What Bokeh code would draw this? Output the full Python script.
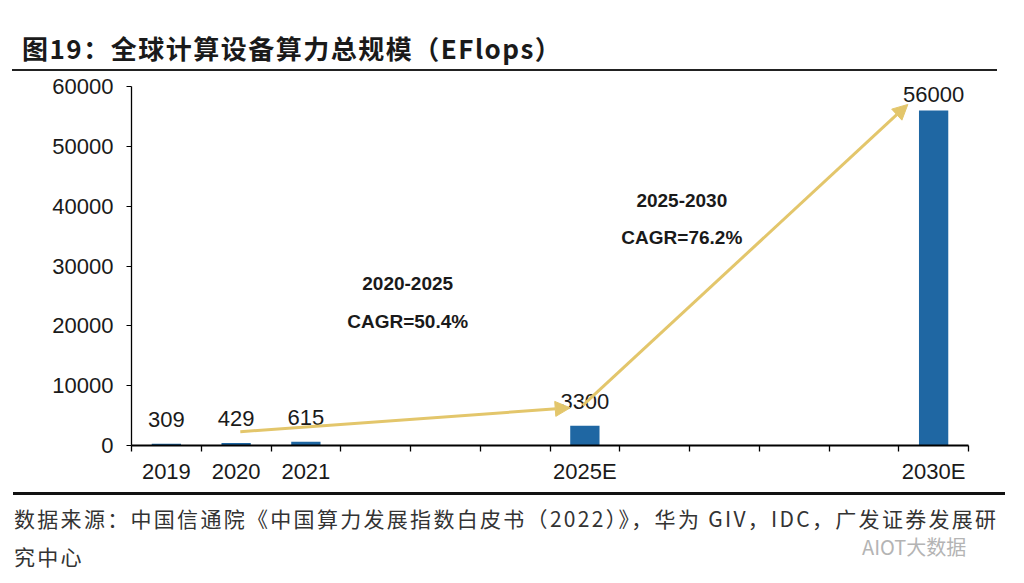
from bokeh.plotting import figure
from bokeh.layouts import column
from bokeh.models import (Range1d, LinearAxis, FixedTicker, SingleIntervalTicker, Div,
                          LabelSet, Label, Arrow, NormalHead, ColumnDataSource, NumeralTickFormatter)
from bokeh.core.properties import value
from bokeh.embed import file_html
from bokeh.resources import INLINE

# ---- data ----
slots = ["2019", "2020", "2021", "2022", "2023", "2024", "2025E",
         "2026E", "2027E", "2028E", "2029E", "2030E"]
bar_years = ["2019", "2020", "2021", "2025E", "2030E"]
bar_values = [309, 429, 615, 3300, 56000]
y_ticks_interval = 10000
title_text = "图19：全球计算设备算力总规模（EFlops）"
source_line1 = "数据来源：中国信通院《中国算力发展指数白皮书（2022）》，华为 GIV，IDC，广发证券发展研"
source_line2 = "究中心"
watermark = "AIOT大数据"
cagr_labels = [("2020-2025", "CAGR=50.4%"), ("2025-2030", "CAGR=76.2%")]
# annotation anchors (slot x units, y data units)
cagr_text_pos = [(3.96, 27000, 20800), (7.89, 41000, 34800)]
arrow_pos = [(1.56, 2300, 6.29, 6300), (6.47, 6700, 11.13, 57000)]
label_offsets = [17, 17, 17, 17, 8]

BAR = "#1F67A3"
GOLD = "#E3C66B"
TXT = "#1a1a1a"
FONT = "Liberation Sans"
CJK = "Noto Sans CJK SC"
W = 1008

# ---- header (title + rule) ----
HH = 73
hdr = Div(width=W, height=HH, margin=0, text=(
    f'<div style="position:relative;width:{W}px;height:{HH}px;margin:0;padding:0;">'
    f'<div style="position:absolute;left:22px;top:32px;font-family:\'{CJK}\';font-weight:bold;'
    f'font-size:26px;line-height:32px;letter-spacing:1.5px;white-space:nowrap;color:{TXT};">'
    f'{title_text}</div>'
    f'<div style="position:absolute;left:12px;top:69px;width:985px;height:0;'
    f'border-top:2px solid #222222;"></div></div>'))

# ---- main chart ----
p = figure(width=W, height=413,
           x_range=Range1d(0, len(slots)), y_range=Range1d(0, 60000),
           x_axis_location=None, toolbar_location=None, output_backend="svg",
           min_border_left=131, min_border_right=40, min_border_top=13, min_border_bottom=40)
p.outline_line_color = None
p.grid.visible = False

ya = p.yaxis[0]
ya.ticker = SingleIntervalTicker(interval=y_ticks_interval)
ya.formatter = NumeralTickFormatter(format="0")
ya.axis_line_color = "black"
ya.axis_line_width = 1.3
ya.major_tick_in = 0
ya.major_tick_out = 5
ya.major_tick_line_color = "black"
ya.minor_tick_line_color = None
ya.major_label_text_font = FONT
ya.major_label_text_font_size = "22px"
ya.major_label_text_color = TXT
ya.major_label_standoff = 13

centers = [slots.index(c) + 0.5 for c in bar_years]
xa = LinearAxis(ticker=FixedTicker(ticks=centers, minor_ticks=list(range(len(slots) + 1))),
                major_label_overrides={c: lab for c, lab in zip(centers, bar_years)})
xa.axis_line_color = "black"
xa.axis_line_width = 1.8
xa.major_tick_line_color = None
xa.major_tick_out = 5
xa.major_tick_in = 0
xa.minor_tick_line_color = "black"
xa.minor_tick_line_width = 1.3
xa.minor_tick_out = 6
xa.minor_tick_in = 0
xa.major_label_text_font = FONT
xa.major_label_text_font_size = "22px"
xa.major_label_text_color = TXT
xa.major_label_standoff = 7
p.add_layout(xa, "below")

src = ColumnDataSource(dict(x=centers, y=bar_values, t=[str(v) for v in bar_values],
                            dy=label_offsets))
p.vbar(x="x", top="y", width=0.42, fill_color=BAR, line_color=None, source=src)
p.add_layout(LabelSet(source=src, x="x", y="y", text="t", text_align="center",
                      text_baseline="bottom", y_offset="dy", text_font=value(FONT),
                      text_font_size=value("22px"), text_color=TXT))

for (x0, y0, x1, y1) in arrow_pos:
    p.add_layout(Arrow(end=NormalHead(size=15, fill_color=GOLD, line_color=GOLD),
                       x_start=x0, y_start=y0, x_end=x1, y_end=y1,
                       line_color=GOLD, line_width=3))

for (l1, l2), (x, y1, y2) in zip(cagr_labels, cagr_text_pos):
    for t, y in ((l1, y1), (l2, y2)):
        p.add_layout(Label(x=x, y=y, text=t, text_align="center", text_baseline="middle",
                           text_font=FONT, text_font_style="bold", text_font_size="19px",
                           text_color=TXT))

# ---- footer (rule + source + watermark) ----
FH = 81
txt_style = (f"position:absolute;font-family:'{CJK}';font-size:21px;line-height:26px;"
             f"white-space:nowrap;color:#333333;")
ftr = Div(width=W, height=FH, margin=0, text=(
    f'<div style="position:relative;width:{W}px;height:{FH}px;margin:0;padding:0;">'
    f'<div style="position:absolute;left:13px;top:6px;width:992px;height:0;'
    f'border-top:3px solid #111111;"></div>'
    f'<div style="{txt_style}left:14px;top:19px;letter-spacing:2.3px;">{source_line1}</div>'
    f'<div style="{txt_style}left:14px;top:57px;letter-spacing:2.3px;">{source_line2}</div>'
    f'<div style="{txt_style}left:862px;top:50px;font-size:20px;line-height:22px;color:#b4b4b4;">'
    f'{watermark}</div>'
    f'</div>'))

layout = column(hdr, p, ftr, spacing=0)
open("out.html", "w").write(file_html(layout, INLINE))
